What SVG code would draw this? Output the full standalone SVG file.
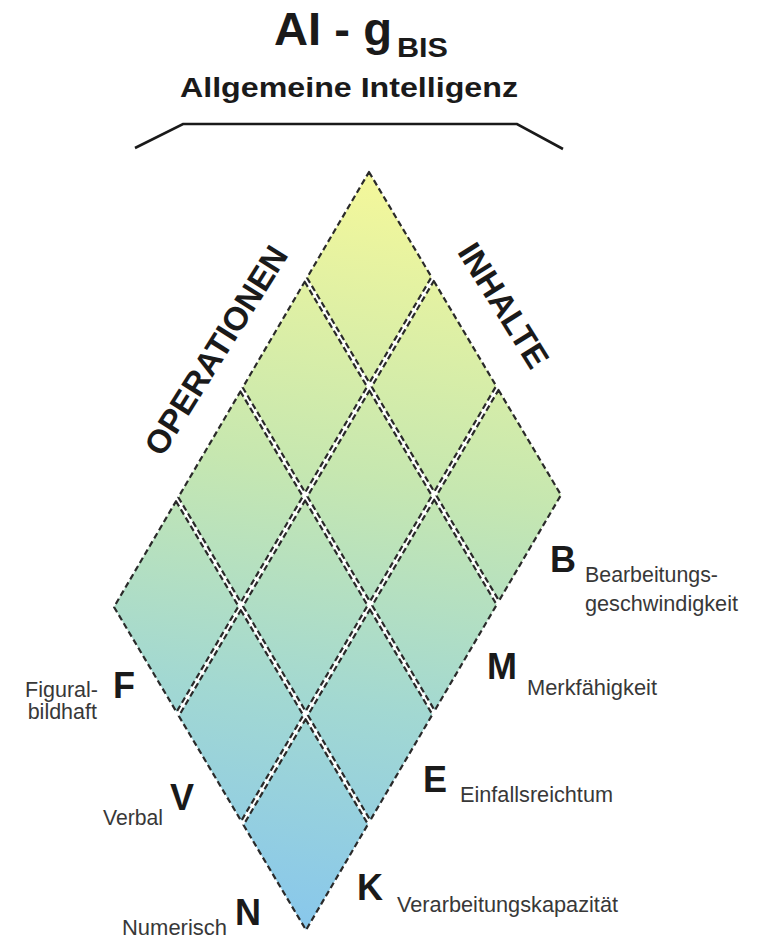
<svg xmlns="http://www.w3.org/2000/svg" width="758" height="939" viewBox="0 0 758 939">
<defs>
<linearGradient id="grad" gradientUnits="userSpaceOnUse" x1="400" y1="172" x2="290" y2="930">
<stop offset="0" stop-color="#f5f89a"/>
<stop offset="0.4" stop-color="#c6e7b0"/>
<stop offset="0.7" stop-color="#a2d8d2"/>
<stop offset="1" stop-color="#88c7ec"/>
</linearGradient>
<style>
.cell{fill:url(#grad);stroke:#2a2a2a;stroke-width:2.2;stroke-dasharray:6 3.5;stroke-linejoin:round}
.big{font-family:"Liberation Sans",Arial,sans-serif;font-weight:bold;fill:#1a1a1a}
.lbl{font-family:"Liberation Sans",Arial,sans-serif;font-size:21.5px;fill:#383838}
.axis{font-family:"Liberation Sans",Arial,sans-serif;font-weight:bold;font-size:33px;fill:#1a1a1a}
</style>
</defs>
<rect width="758" height="939" fill="#ffffff"/>
<g id="title">
<text class="big" x="274" y="45" font-size="46" textLength="118" lengthAdjust="spacingAndGlyphs">AI - g</text>
<text x="397" y="57" font-family="Liberation Sans, Arial, sans-serif" font-size="27" fill="#1a1a1a" font-weight="bold" textLength="51" lengthAdjust="spacingAndGlyphs">BIS</text>
<text class="big" x="180" y="97" font-size="27" textLength="338" lengthAdjust="spacingAndGlyphs">Allgemeine Intelligenz</text>
</g>
<g id="bracket">
<polyline points="135,148 183,124 517,124 563,149" fill="none" stroke="#1a1a1a" stroke-width="2.6"/>
</g>
<g id="axis-operationen"><text class="axis" text-anchor="middle" transform="translate(225.7,356.3) rotate(-58)">OPERATIONEN</text></g>
<g id="axis-inhalte"><text class="axis" font-size="32" text-anchor="middle" transform="translate(494,311.5) rotate(58)">INHALTE</text></g>
<g id="cells">
<g id="cell-0-0"><polygon class="cell" points="369,172 431.5,277 369.4,382.75 307,277.75"/></g>
<g id="cell-0-1"><polygon class="cell" points="304.7,281.75 367.1,386.75 305.1,492.5 242.7,387.5"/></g>
<g id="cell-0-2"><polygon class="cell" points="240.4,391.5 302.8,496.5 240.8,602.25 178.3,497.25"/></g>
<g id="cell-0-3"><polygon class="cell" points="176,501.25 238.5,606.25 176.5,712 114,607"/></g>
<g id="cell-1-0"><polygon class="cell" points="433.8,281 496.2,386 434.2,491.75 371.7,386.75"/></g>
<g id="cell-1-1"><polygon class="cell" points="369.4,390.75 431.9,495.75 369.9,601.5 307.4,496.5"/></g>
<g id="cell-1-2"><polygon class="cell" points="305.1,500.5 367.6,605.5 305.6,711.25 243.1,606.25"/></g>
<g id="cell-1-3"><polygon class="cell" points="240.8,610.25 303.3,715.25 241.2,821 178.8,716"/></g>
<g id="cell-2-0"><polygon class="cell" points="498.5,390 561,495 499,600.75 436.5,495.75"/></g>
<g id="cell-2-1"><polygon class="cell" points="434.2,499.75 496.7,604.75 434.7,710.5 372.2,605.5"/></g>
<g id="cell-2-2"><polygon class="cell" points="369.9,609.5 432.4,714.5 370.3,820.25 307.9,715.25"/></g>
<g id="cell-2-3"><polygon class="cell" points="305.6,719.25 368,824.25 306,930 243.5,825"/></g>
</g>
<g id="label-B"><text class="big" x="550" y="572" font-size="36">B</text>
<text class="lbl" x="585" y="582" textLength="133" lengthAdjust="spacingAndGlyphs">Bearbeitungs-</text>
<text class="lbl" x="585" y="611" textLength="153" lengthAdjust="spacingAndGlyphs">geschwindigkeit</text></g>
<g id="label-M"><text class="big" x="487" y="679" font-size="36">M</text>
<text class="lbl" x="527" y="695" textLength="130" lengthAdjust="spacingAndGlyphs">Merkfähigkeit</text></g>
<g id="label-E"><text class="big" x="423" y="792" font-size="36">E</text>
<text class="lbl" x="460" y="802" textLength="153" lengthAdjust="spacingAndGlyphs">Einfallsreichtum</text></g>
<g id="label-K"><text class="big" x="357" y="900" font-size="36">K</text>
<text class="lbl" x="397" y="912" textLength="221" lengthAdjust="spacingAndGlyphs">Verarbeitungskapazität</text></g>
<g id="label-F"><text class="big" x="113" y="698" font-size="36">F</text>
<text class="lbl" x="98" y="697" text-anchor="end">Figural-</text>
<text class="lbl" x="97" y="719" text-anchor="end">bildhaft</text></g>
<g id="label-V"><text class="big" x="170" y="810" font-size="36">V</text>
<text class="lbl" x="103" y="825" textLength="60" lengthAdjust="spacingAndGlyphs">Verbal</text></g>
<g id="label-N"><text class="big" x="235" y="925" font-size="36">N</text>
<text class="lbl" x="122" y="935" textLength="105" lengthAdjust="spacingAndGlyphs">Numerisch</text></g>
</svg>
